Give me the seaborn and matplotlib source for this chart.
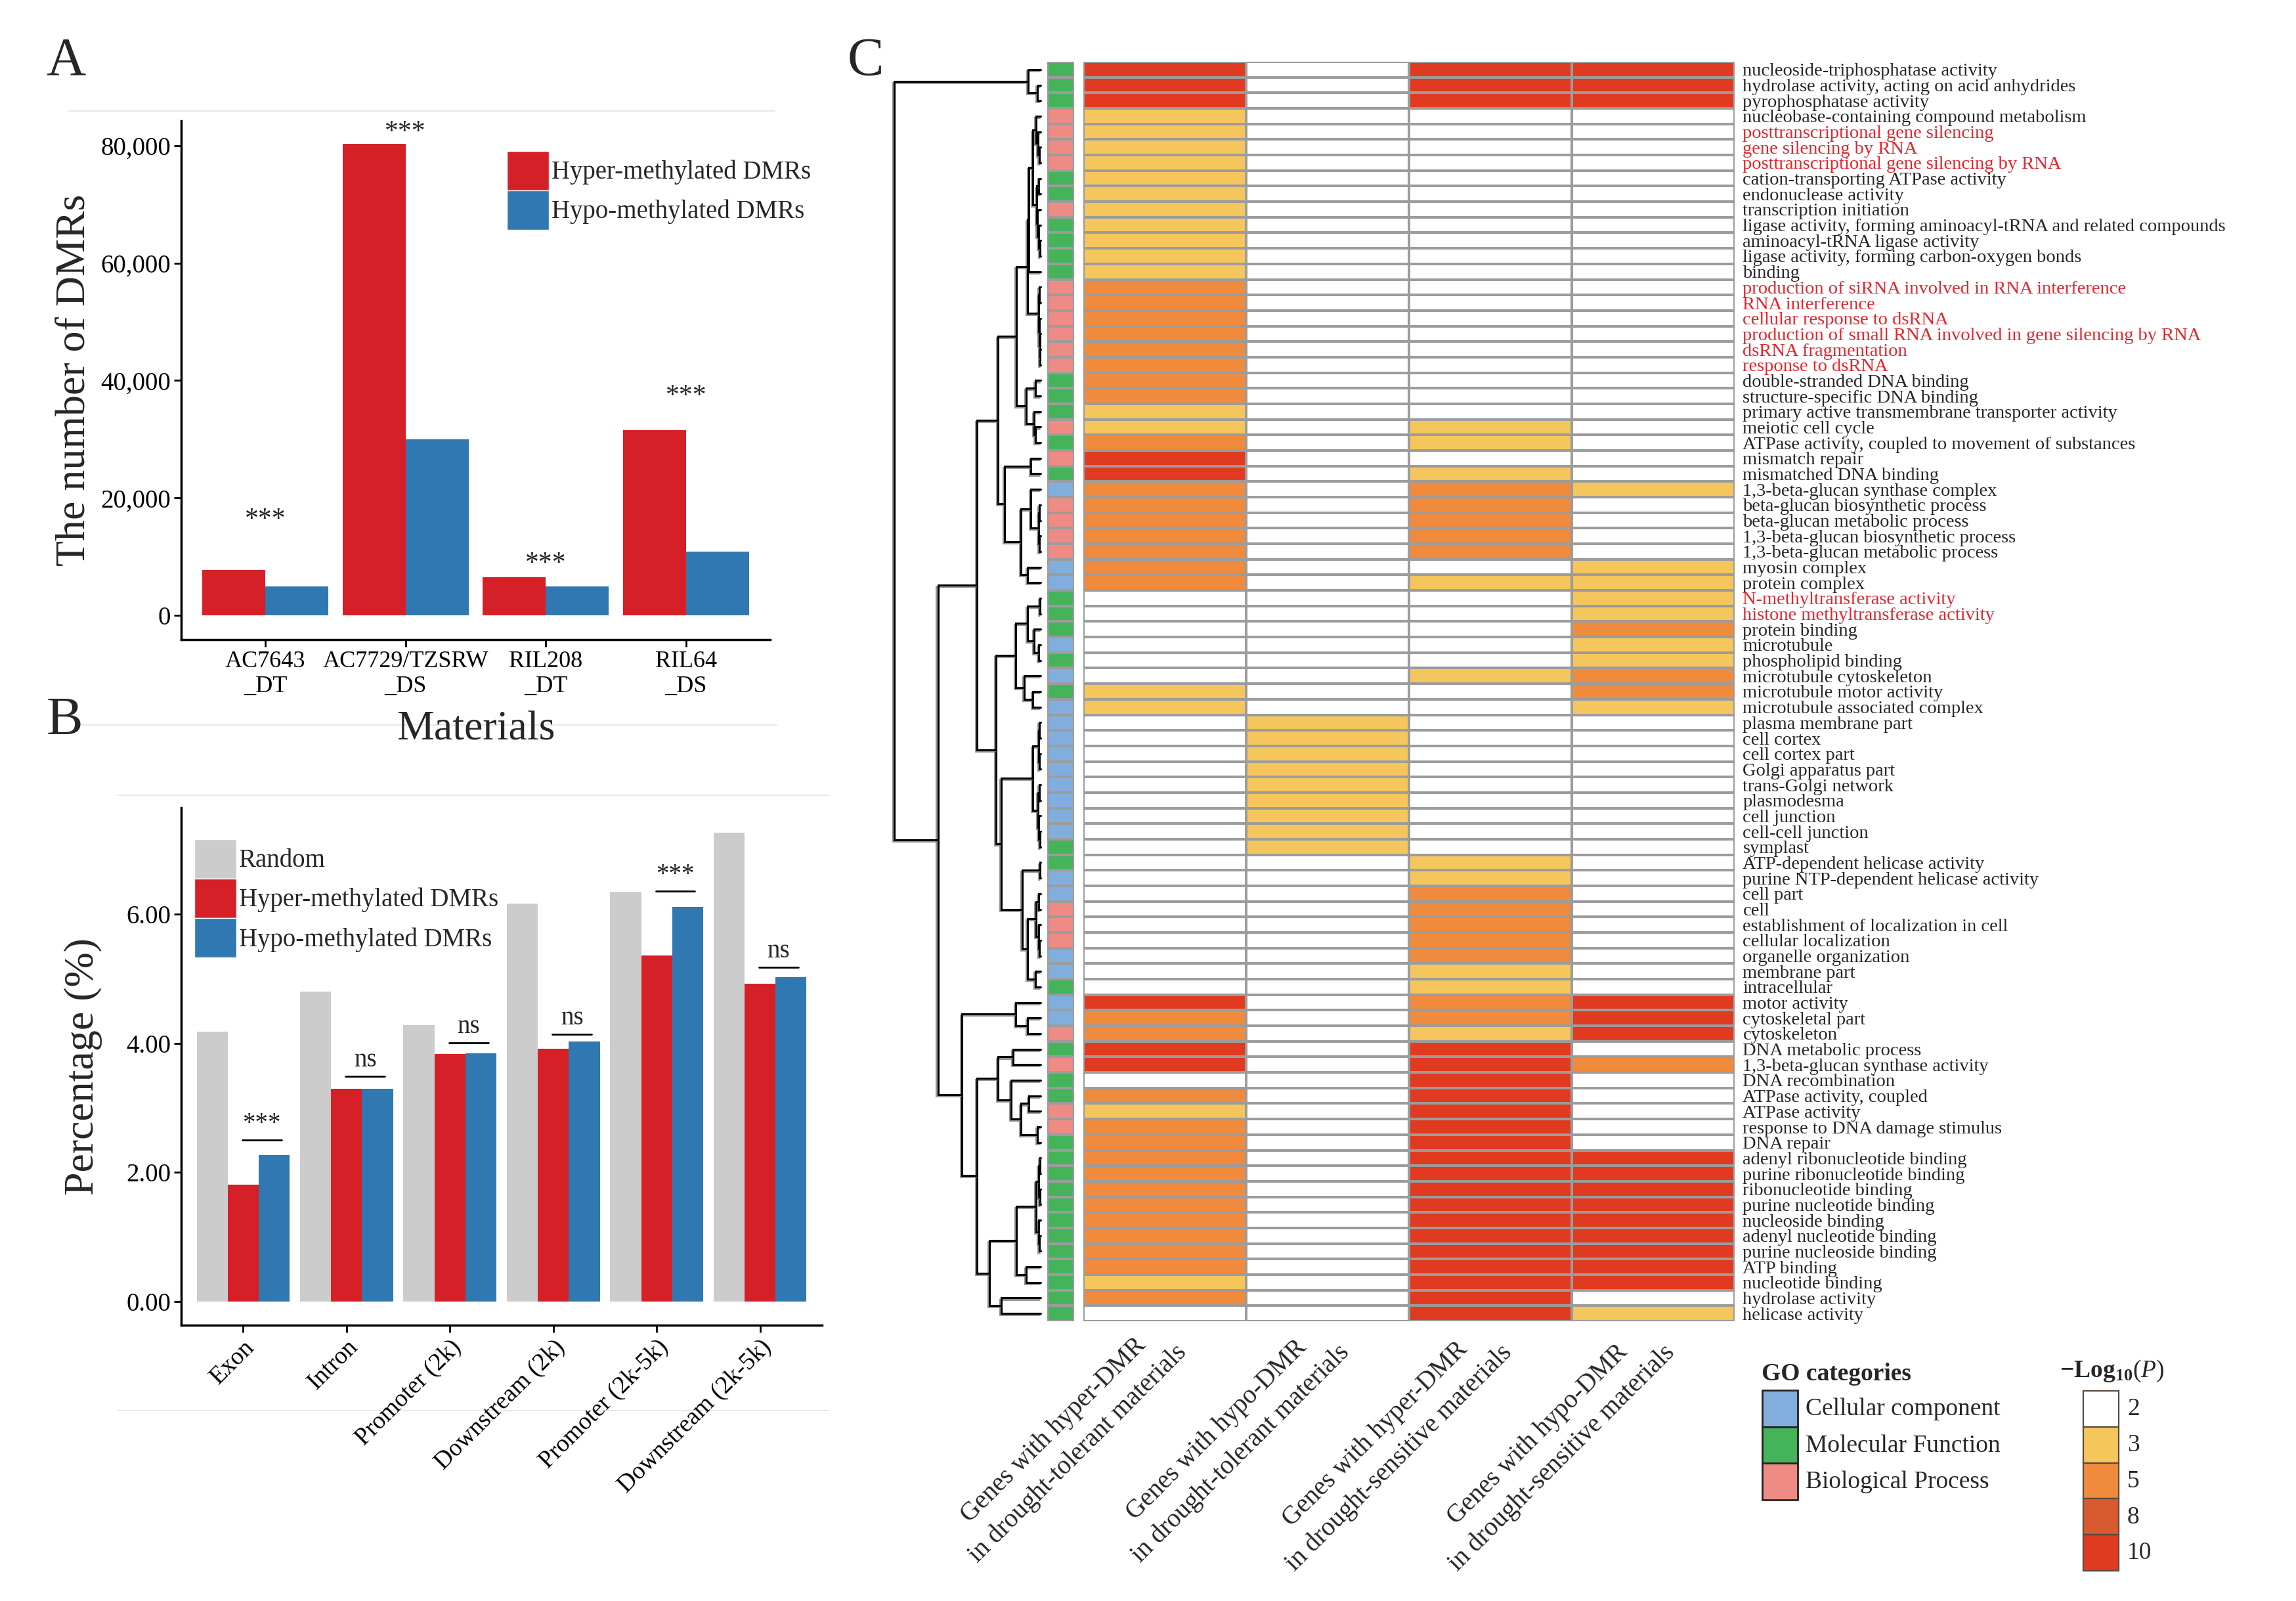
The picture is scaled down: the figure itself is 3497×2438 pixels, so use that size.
import numpy as np
import pandas as pd
import matplotlib
matplotlib.use("Agg")
import matplotlib.pyplot as plt
import seaborn as sns
from matplotlib.colors import ListedColormap, BoundaryNorm
from matplotlib.patches import Rectangle
import matplotlib.patheffects as pe
from matplotlib.ticker import FuncFormatter, FormatStrFormatter

# ---------------- Panel A data ----------------
materials = ["AC7643\n_DT", "AC7729/TZSRW\n_DS", "RIL208\n_DT", "RIL64\n_DS"]
hyper_counts = [7700, 80300, 6450, 31500]
hypo_counts = [4950, 30000, 4950, 10900]
sigA_labels = ["***", "***", "***", "***"]
sigA_y = [16200, 82300, 8700, 37300]

# ---------------- Panel B data ----------------
regions = ["Exon", "Intron", "Promoter (2k)", "Downstream (2k)",
           "Promoter (2k-5k)", "Downstream (2k-5k)"]
random_pct = [4.18, 4.80, 4.28, 6.16, 6.35, 7.26]
hyper_pct = [1.81, 3.29, 3.83, 3.91, 5.36, 4.92]
hypo_pct = [2.27, 3.29, 3.84, 4.03, 6.11, 5.02]
sigB_labels = ["***", "ns", "ns", "ns", "***", "ns"]
sigB_y = [2.50, 3.49, 4.01, 4.14, 6.36, 5.18]

# ---------------- Panel C data ----------------
go_terms = [
    "nucleoside-triphosphatase activity", "hydrolase activity, acting on acid anhydrides",
    "pyrophosphatase activity", "nucleobase-containing compound metabolism",
    "posttranscriptional gene silencing", "gene silencing by RNA",
    "posttranscriptional gene silencing by RNA", "cation-transporting ATPase activity",
    "endonuclease activity", "transcription initiation",
    "ligase activity, forming aminoacyl-tRNA and related compounds", "aminoacyl-tRNA ligase activity",
    "ligase activity, forming carbon-oxygen bonds", "binding",
    "production of siRNA involved in RNA interference", "RNA interference",
    "cellular response to dsRNA", "production of small RNA involved in gene silencing by RNA",
    "dsRNA fragmentation", "response to dsRNA",
    "double-stranded DNA binding", "structure-specific DNA binding",
    "primary active transmembrane transporter activity", "meiotic cell cycle",
    "ATPase activity, coupled to movement of substances", "mismatch repair",
    "mismatched DNA binding", "1,3-beta-glucan synthase complex",
    "beta-glucan biosynthetic process", "beta-glucan metabolic process",
    "1,3-beta-glucan biosynthetic process", "1,3-beta-glucan metabolic process",
    "myosin complex", "protein complex",
    "N-methyltransferase activity", "histone methyltransferase activity",
    "protein binding", "microtubule",
    "phospholipid binding", "microtubule cytoskeleton",
    "microtubule motor activity", "microtubule associated complex",
    "plasma membrane part", "cell cortex",
    "cell cortex part", "Golgi apparatus part",
    "trans-Golgi network", "plasmodesma",
    "cell junction", "cell-cell junction",
    "symplast", "ATP-dependent helicase activity",
    "purine NTP-dependent helicase activity", "cell part",
    "cell", "establishment of localization in cell",
    "cellular localization", "organelle organization",
    "membrane part", "intracellular",
    "motor activity", "cytoskeletal part",
    "cytoskeleton", "DNA metabolic process",
    "1,3-beta-glucan synthase activity", "DNA recombination",
    "ATPase activity, coupled", "ATPase activity",
    "response to DNA damage stimulus", "DNA repair",
    "adenyl ribonucleotide binding", "purine ribonucleotide binding",
    "ribonucleotide binding", "purine nucleotide binding",
    "nucleoside binding", "adenyl nucleotide binding",
    "purine nucleoside binding", "ATP binding",
    "nucleotide binding", "hydrolase activity",
    "helicase activity",
]
go_category = list(
    "MMMBBBBMMBMMMMBBBBBBMMMBMBMCBBBBCCMMMCMCMCCCCCCCCCMMCCBBBCCMCCBMBMMBBMMMMMMMMMMM"
    "M")
highlight_terms = [
    "posttranscriptional gene silencing", "gene silencing by RNA",
    "posttranscriptional gene silencing by RNA",
    "production of siRNA involved in RNA interference", "RNA interference",
    "cellular response to dsRNA", "production of small RNA involved in gene silencing by RNA",
    "dsRNA fragmentation", "response to dsRNA",
    "N-methyltransferase activity", "histone methyltransferase activity",
]
conditions = ["Genes with hyper-DMR\nin drought-tolerant materials",
              "Genes with hypo-DMR\nin drought-tolerant materials",
              "Genes with hyper-DMR\nin drought-sensitive materials",
              "Genes with hypo-DMR\nin drought-sensitive materials"]
# -log10(P) classes (2, 3, 5, 8, 10)
tol_hyper = [10, 10, 10, 3, 3, 3, 3, 3, 3, 3,
             3, 3, 3, 3, 5, 5, 5, 5, 5, 5,
             5, 5, 3, 3, 5, 10, 10, 5, 5, 5,
             5, 5, 5, 5, 2, 2, 2, 2, 2, 2,
             3, 3, 2, 2, 2, 2, 2, 2, 2, 2,
             2, 2, 2, 2, 2, 2, 2, 2, 2, 2,
             10, 5, 5, 10, 10, 2, 5, 3, 5, 5,
             5, 5, 5, 5, 5, 5, 5, 5, 3, 5,
             2]
tol_hypo = [2, 2, 2, 2, 2, 2, 2, 2, 2, 2,
            2, 2, 2, 2, 2, 2, 2, 2, 2, 2,
            2, 2, 2, 2, 2, 2, 2, 2, 2, 2,
            2, 2, 2, 2, 2, 2, 2, 2, 2, 2,
            2, 2, 3, 3, 3, 3, 3, 3, 3, 3,
            3, 2, 2, 2, 2, 2, 2, 2, 2, 2,
            2, 2, 2, 2, 2, 2, 2, 2, 2, 2,
            2, 2, 2, 2, 2, 2, 2, 2, 2, 2,
            2]
sen_hyper = [10, 10, 10, 2, 2, 2, 2, 2, 2, 2,
             2, 2, 2, 2, 2, 2, 2, 2, 2, 2,
             2, 2, 2, 3, 3, 2, 3, 5, 5, 5,
             5, 5, 2, 3, 2, 2, 2, 2, 2, 3,
             2, 2, 2, 2, 2, 2, 2, 2, 2, 2,
             2, 3, 3, 5, 5, 5, 5, 5, 3, 3,
             5, 5, 3, 10, 10, 10, 10, 10, 10, 10,
             10, 10, 10, 10, 10, 10, 10, 10, 10, 10,
             10]
sen_hypo = [10, 10, 10, 2, 2, 2, 2, 2, 2, 2,
            2, 2, 2, 2, 2, 2, 2, 2, 2, 2,
            2, 2, 2, 2, 2, 2, 2, 3, 2, 2,
            2, 2, 3, 3, 3, 3, 5, 3, 3, 5,
            5, 3, 2, 2, 2, 2, 2, 2, 2, 2,
            2, 2, 2, 2, 2, 2, 2, 2, 2, 2,
            10, 10, 10, 2, 5, 2, 2, 2, 2, 2,
            10, 10, 10, 10, 10, 10, 10, 10, 10, 2,
            3]

# row dendrogram: (merge height, left, right); leaves are row indices
row_tree = (670,
    (57, 0, (15, 1, 2)),
    (470,
        (290,
            (195,
                (110,
                    (60,
                        (53, (35, (20, 3, (12, 4, (5, 5, 6))),
                                  (18, (10, 7, 8), (15, 9, (8, 10, (4, 11, 12))))), 13),
                        (10, (6, 14, 15), (6, 16, (4, 17, (3, 18, 19))))),
                    (65, (25, 20, 21), (30, 22, (25, 23, 24)))),
                (165,
                    (45, 25, 26),
                    (90, (45, 27, (10, (5, 28, 29), (5, 30, 31))), (60, 32, 33)))),
            (205,
                (115,
                    (60, (3, 34, 35), (30, 36, (10, 37, 38))),
                    (75, 39, (35, 40, 41))),
                (180,
                    (35, (10, (5, 42, 43), (5, 44, 45)), (12, (5, 46, 47), (8, 48, (4, 49, 50)))),
                    (85, (3, 51, 52),
                         (60, (20, (8, 53, 54), (10, 55, (5, 56, 57))), (25, 58, 59)))))),
        (360,
            (115, 60, (60, 61, 62)),
            (290,
                (195, (125, 63, 64), (135, 65, (90, (55, 66, 67), (15, 68, 69)))),
                (235,
                    (110, (20, (8, (4, 70, 71), (4, 72, 73)), (10, 74, (5, 75, 76))), (65, 77, 78)),
                    (180, 79, 80))))))

# ---------------- styling ----------------
sns.set_theme(style="white")
plt.rcParams["font.family"] = ["Liberation Serif", "DejaVu Serif"]
plt.rcParams["mathtext.fontset"] = "custom"
plt.rcParams["mathtext.rm"] = "Liberation Serif"
plt.rcParams["mathtext.it"] = "Liberation Serif:italic"
plt.rcParams["mathtext.bf"] = "Liberation Serif:bold"

RED = "#D62027"
BLUE = "#3078B1"
GREY = "#CCCCCC"
hm_colors = ["#FFFFFF", "#F5C65C", "#F08A3C", "#D85B2F", "#E03A21"]
cat_colors = {"C": "#82AEDE", "M": "#45B35A", "B": "#EF8B85"}
HL_RED = "#E8232B"

W, H = 3498, 2438
fig = plt.figure(figsize=(W / 100, H / 100), dpi=100)


def fax(x0, y0, x1, y1):
    return [x0 / W, 1 - y1 / H, (x1 - x0) / W, (y1 - y0) / H]


# background axes for panel letters / legends / faint separators
bg = fig.add_axes([0, 0, 1, 1], zorder=-1)
bg.set_xlim(0, W)
bg.set_ylim(H, 0)
bg.axis("off")
bg.patch.set_alpha(0)
for (x0, x1, y) in [(104, 1180, 169), (121, 1183, 1104), (179, 1262, 1211), (179, 1262, 2148)]:
    bg.plot([x0, x1], [y, y], color="#e8e8e8", lw=1.4)
for letter, (x, y) in {"A": (100, 94), "B": (98, 1098), "C": (1318, 94)}.items():
    bg.text(x, y, letter, fontsize=60, ha="center", va="center")


def style_axis(ax):
    for s in ["top", "right"]:
        ax.spines[s].set_visible(False)
    for s in ["left", "bottom"]:
        ax.spines[s].set_color("black")
        ax.spines[s].set_linewidth(2.5)
    ax.tick_params(axis="both", which="both", length=8, width=2, color="black",
                   labelsize=28, labelcolor="black", direction="out",
                   left=True, bottom=True)
    ax.grid(False)


# ---------------- Panel A ----------------
axA = fig.add_axes(fax(276, 184, 1173, 974))
dfA = pd.DataFrame({
    "Material": materials * 2,
    "Count": hyper_counts + hypo_counts,
    "Type": ["Hyper-methylated DMRs"] * 4 + ["Hypo-methylated DMRs"] * 4,
})
sns.barplot(data=dfA, x="Material", y="Count", hue="Type", order=materials,
            hue_order=["Hyper-methylated DMRs", "Hypo-methylated DMRs"],
            palette=[RED, BLUE], width=0.9, saturation=1, linewidth=0,
            legend=False, ax=axA, errorbar=None)
style_axis(axA)
axA.set_xlim(-0.6, 3.6)
axA.set_ylim(-4140, 84250)
axA.set_yticks([0, 20000, 40000, 60000, 80000])
axA.yaxis.set_major_formatter(FuncFormatter(lambda v, p: f"{int(v):,}"))
axA.tick_params(axis="x", labelsize=26, pad=4)
axA.set_xlabel("Materials", fontsize=46, labelpad=14)
axA.set_ylabel("The number of DMRs", fontsize=46, labelpad=8)
for i, (lab, yv) in enumerate(zip(sigA_labels, sigA_y)):
    axA.text(i, yv, lab, ha="center", va="center", fontsize=30)
hA = [Rectangle((0, 0), 1, 1, fc=RED), Rectangle((0, 0), 1, 1, fc=BLUE)]
axA.legend(hA, ["Hyper-methylated DMRs", "Hypo-methylated DMRs"],
           loc="upper left", bbox_to_anchor=(772 / W, 1 - 230 / H),
           bbox_transform=fig.transFigure, frameon=False, fontsize=28,
           handlelength=1.65, handleheight=2.0, handletextpad=0.1,
           labelspacing=0.0, borderpad=0, borderaxespad=0)

# ---------------- Panel B ----------------
axB = fig.add_axes(fax(276, 1230, 1252, 2018))
dfB = pd.DataFrame({
    "Region": regions * 3,
    "Pct": random_pct + hyper_pct + hypo_pct,
    "Type": ["Random"] * 6 + ["Hyper-methylated DMRs"] * 6 + ["Hypo-methylated DMRs"] * 6,
})
sns.barplot(data=dfB, x="Region", y="Pct", hue="Type", order=regions,
            hue_order=["Random", "Hyper-methylated DMRs", "Hypo-methylated DMRs"],
            palette=[GREY, RED, BLUE], width=0.9, saturation=1, linewidth=0,
            legend=False, ax=axB, errorbar=None)
style_axis(axB)
axB.set_xlim(-0.6, 5.6)
axB.set_ylim(-0.37, 7.65)
axB.set_yticks([0, 2, 4, 6])
axB.yaxis.set_major_formatter(FormatStrFormatter("%.2f"))
axB.set_xlabel("")
axB.set_ylabel("Percentage (%)", fontsize=46, labelpad=26)
plt.setp(axB.get_xticklabels(), rotation=45, ha="right", rotation_mode="anchor", fontsize=27)
for i, (lab, yv) in enumerate(zip(sigB_labels, sigB_y)):
    axB.plot([i - 0.01, i + 0.37], [yv, yv], color="black", lw=2)
    axB.text(i + 0.18, yv + 0.06, lab, ha="center", va="bottom", fontsize=28)
hB = [Rectangle((0, 0), 1, 1, fc=GREY), Rectangle((0, 0), 1, 1, fc=RED),
      Rectangle((0, 0), 1, 1, fc=BLUE)]
axB.legend(hB, ["Random", "Hyper-methylated DMRs", "Hypo-methylated DMRs"],
           loc="upper left", bbox_to_anchor=(296 / W, 1 - 1278 / H),
           bbox_transform=fig.transFigure, frameon=False, fontsize=28,
           handlelength=1.65, handleheight=2.0, handletextpad=0.1,
           labelspacing=0.0, borderpad=0, borderaxespad=0)

# ---------------- Panel C ----------------
n = len(go_terms)
top, bot = 94, 2012
df_hm = pd.DataFrame({c: v for c, v in zip(conditions, [tol_hyper, tol_hypo, sen_hyper, sen_hypo])},
                     index=go_terms)
axH = fig.add_axes(fax(1650, top, 2642, bot))
cmap = ListedColormap(hm_colors)
norm = BoundaryNorm([1.5, 2.5, 4.0, 6.5, 9.0, 11.0], cmap.N)
sns.heatmap(df_hm, cmap=cmap, norm=norm, cbar=False, linewidths=1.6,
            linecolor="#9c9c9c", ax=axH, xticklabels=False, yticklabels=True)
axH.yaxis.tick_right()
axH.set_yticks(np.arange(n) + 0.5)
axH.set_yticklabels(go_terms, rotation=0, fontsize=20.5)
axH.tick_params(axis="y", length=0, pad=9)
for t in axH.get_yticklabels():
    if t.get_text() in highlight_terms:
        t.set_color(HL_RED)
axH.set_xlabel("")
axH.set_ylabel("")
for j, lab in enumerate(conditions):
    axH.text(j + 0.41, n - 0.3, lab, rotation=45, ha="right", va="top",
             rotation_mode="anchor", multialignment="center", fontsize=28.5,
             linespacing=1.5)

# category color strip
cat_codes = {"C": 0, "M": 1, "B": 2}
df_cat = pd.DataFrame({"cat": [cat_codes[c] for c in go_category]}, index=go_terms)
axR = fig.add_axes(fax(1595, top, 1636, bot))
sns.heatmap(df_cat, cmap=ListedColormap([cat_colors["C"], cat_colors["M"], cat_colors["B"]]),
            vmin=-0.5, vmax=2.5, cbar=False, linewidths=1.6, linecolor="#9c9c9c",
            ax=axR, xticklabels=False, yticklabels=False)
axR.set_xlabel("")
axR.set_ylabel("")

# dendrogram
axD = fig.add_axes(fax(1362, top, 1585, bot))
axD.set_xlim(row_tree[0], 0)
axD.set_ylim(n, 0)
axD.axis("off")
shadow = [pe.SimpleLineShadow(offset=(-1.5, -1.5), shadow_color="#7f7f7f", alpha=0.8),
          pe.Normal()]


def draw_tree(ax, node):
    if isinstance(node, int):
        return node + 0.5, 0.0
    h, left, right = node
    y1, h1 = draw_tree(ax, left)
    y2, h2 = draw_tree(ax, right)
    ax.plot([h1, h, h, h2], [y1, y1, y2, y2], color="black", lw=2.2,
            path_effects=shadow, clip_on=False, solid_joinstyle="miter")
    return (y1 + y2) / 2, h


draw_tree(axD, row_tree)

# GO categories legend
bg.text(2683, 2092, "GO categories", fontsize=27, fontweight="bold", ha="left", va="center")
go_leg = [("C", "Cellular component"), ("M", "Molecular Function"), ("B", "Biological Process")]
for k, (c, lab) in enumerate(go_leg):
    y0 = 2117 + k * 55.5
    bg.add_patch(Rectangle((2684, y0), 54, 55.5, fc=cat_colors[c], ec="#222222", lw=2))
    bg.text(2750, y0 + 29, lab, fontsize=27, ha="left", va="center")

# -log10(P) legend
bg.text(3137, 2088, r"$\mathbf{-Log}_{\mathbf{10}}(\mathit{P})$", fontsize=27,
        ha="left", va="center")
for k, (col, lab) in enumerate(zip(hm_colors, ["2", "3", "5", "8", "10"])):
    y0 = 2118 + k * 54.8
    bg.add_patch(Rectangle((3173, y0), 54, 54.8, fc=col, ec="#5a4a40", lw=1.6))
    bg.text(3240, y0 + 28, lab, fontsize=27, ha="left", va="center")

fig.savefig("out.png", dpi=100)
